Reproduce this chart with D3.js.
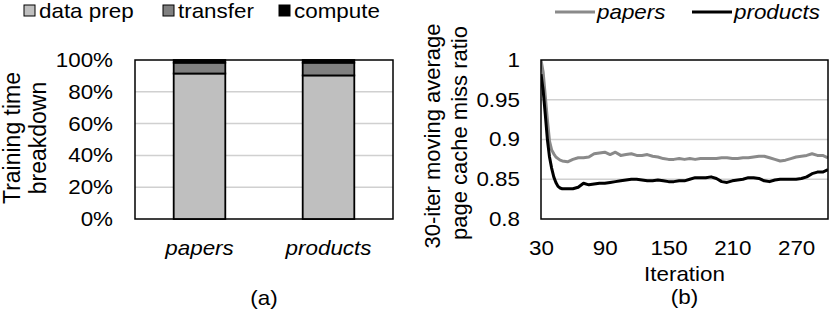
<!DOCTYPE html>
<html>
<head>
<meta charset="utf-8">
<script src="https://cdn.jsdelivr.net/npm/d3@7"></script>
<style>
  body { margin: 0; background: #fff; }
  svg { display: block; font-family: "Liberation Sans", Arial, sans-serif; }
</style>
</head>
<body>
<div id="block"></div>
<script>
// (a) training time breakdown
var categories = ["papers", "products"];
var parts = ["data prep", "transfer", "compute"];
var dataPrep = [91.5, 90.3];
var transfer = [6.8, 8.0];
var compute = [1.7, 1.7];
var pctTicks = [0, 20, 40, 60, 80, 100];

// (b) 30-iter moving average page cache miss ratio
var series = ["papers", "products"];
var iters = [30, 32, 34, 36, 38, 40, 42, 44, 46, 48, 50,
             55, 60, 65, 70, 75, 80, 85, 90, 95, 100,
             105, 110, 115, 120, 125, 130, 135, 140, 145, 150,
             155, 160, 165, 170, 175, 180, 185, 190, 195, 200,
             205, 210, 215, 220, 225, 230, 235, 240, 245, 250,
             255, 260, 265, 270, 275, 280, 285, 290, 295, 300];
var papersRatio = [1.000, 0.985, 0.955, 0.925, 0.898, 0.887, 0.882, 0.878, 0.876, 0.874, 0.873,
                   0.872, 0.875, 0.877, 0.877, 0.878, 0.882, 0.883, 0.884, 0.881, 0.884,
                   0.880, 0.881, 0.882, 0.880, 0.880, 0.881, 0.879, 0.878, 0.876, 0.875,
                   0.875, 0.876, 0.875, 0.876, 0.875, 0.876, 0.876, 0.876, 0.876, 0.877,
                   0.877, 0.876, 0.876, 0.877, 0.877, 0.878, 0.879, 0.879, 0.877, 0.875,
                   0.873, 0.874, 0.876, 0.878, 0.879, 0.880, 0.882, 0.880, 0.880, 0.877];
var productsRatio = [0.982, 0.962, 0.932, 0.900, 0.878, 0.864, 0.853, 0.846, 0.841, 0.839, 0.838,
                     0.838, 0.838, 0.840, 0.845, 0.843, 0.844, 0.845, 0.845, 0.846, 0.847,
                     0.848, 0.849, 0.850, 0.850, 0.849, 0.848, 0.848, 0.849, 0.848, 0.847,
                     0.847, 0.848, 0.848, 0.850, 0.852, 0.852, 0.852, 0.853, 0.851, 0.847,
                     0.846, 0.848, 0.849, 0.850, 0.852, 0.852, 0.851, 0.848, 0.847, 0.849,
                     0.850, 0.850, 0.850, 0.850, 0.851, 0.853, 0.857, 0.859, 0.859, 0.862];
var iterTicks = [30, 90, 150, 210, 270];
var ratioTicks = [0.8, 0.85, 0.9, 0.95, 1];

// the source figure is a bit wider than tall, so text gets stretched
var SX = 1.12;
var gridColor = "#d0d0d0";
var partColors = ["#bfbfbf", "#808080", "#000000"];
var lineColors = ["#8a8a8a", "#000000"];

var svg = d3.select("#block")
            .append("svg")
            .attr("width", 830)
            .attr("height", 314);

function label(x, y, txt, size, anchor, italic) {
    return svg.append("text")
              .attr("transform", "translate(" + x + "," + y + ") scale(" + SX + ",1)")
              .attr("font-size", size)
              .attr("text-anchor", anchor || "start")
              .attr("font-style", italic ? "italic" : null)
              .text(txt);
}

function vlabel(x, y, txt, size) {
    return svg.append("text")
              .attr("transform", "translate(" + x + "," + y + ") rotate(-90)")
              .attr("font-size", size)
              .attr("text-anchor", "middle")
              .text(txt);
}

function styleAxis(g, italic) {
    g.select(".domain").remove();
    g.selectAll("text")
     .attr("font-size", 20)
     .attr("font-family", null)
     .attr("fill", "#000")
     .attr("font-style", italic ? "italic" : null)
     .attr("transform", "scale(" + SX + ",1)");
}

// ---------- (a) ----------
var a = {left: 135, right: 393, top: 60, bottom: 219};

var xBand = d3.scaleBand()
              .domain(categories)
              .range([a.left, a.right]);
var yPct = d3.scaleLinear()
             .domain([0, 100])
             .range([a.bottom, a.top]);
var barW = xBand.bandwidth() * 0.4;

svg.append("g")
   .selectAll("line")
   .data(pctTicks.slice(1, -1))
   .enter()
   .append("line")
   .attr("x1", a.left).attr("x2", a.right)
   .attr("y1", function(d) { return yPct(d); })
   .attr("y2", function(d) { return yPct(d); })
   .attr("stroke", gridColor)
   .attr("stroke-width", 1.5);

svg.append("rect")
   .attr("x", a.left).attr("y", a.top)
   .attr("width", a.right - a.left).attr("height", a.bottom - a.top)
   .attr("fill", "none")
   .attr("stroke", "#000")
   .attr("stroke-width", 1.5);

var stackRows = categories.map(function(c, i) {
    return {cat: c, "data prep": dataPrep[i], "transfer": transfer[i], "compute": compute[i]};
});
var stacked = d3.stack().keys(parts)(stackRows);

svg.append("g")
   .selectAll("g")
   .data(stacked)
   .enter()
   .append("g")
   .attr("fill", function(d, i) { return partColors[i]; })
   .selectAll("rect")
   .data(function(d) { return d; })
   .enter()
   .append("rect")
   .attr("x", function(d) { return xBand(d.data.cat) + (xBand.bandwidth() - barW) / 2; })
   .attr("y", function(d) { return yPct(d[1]); })
   .attr("width", barW)
   .attr("height", function(d) { return yPct(d[0]) - yPct(d[1]); })
   .attr("stroke", "#000")
   .attr("stroke-width", 1.8);

svg.append("g")
   .attr("transform", "translate(" + a.left + ",0)")
   .call(d3.axisLeft(yPct)
           .tickValues(pctTicks)
           .tickSize(0)
           .tickPadding(22 / SX)
           .tickFormat(function(d) { return d + "%"; }))
   .call(function(g) { styleAxis(g, false); });

svg.append("g")
   .attr("transform", "translate(0," + a.bottom + ")")
   .call(d3.axisBottom(xBand).tickSize(0).tickPadding(22))
   .call(function(g) { styleAxis(g, true); });

vlabel(20, 138, "Training time", 23);
vlabel(46, 138, "breakdown", 23);
label((a.left + a.right) / 2, 305, "(a)", 20, "middle");

// legend (a)
var legA = [24, 163, 279];
parts.forEach(function(p, i) {
    svg.append("rect")
       .attr("x", legA[i]).attr("y", 5)
       .attr("width", 11).attr("height", 11)
       .attr("fill", partColors[i])
       .attr("stroke", "#000")
       .attr("stroke-width", 1);
    label(legA[i] + 15, 18, p, 20);
});

// ---------- (b) ----------
var b = {left: 541, right: 828, top: 60, bottom: 219};

var xIter = d3.scaleLinear()
              .domain([30, 300])
              .range([b.left, b.right]);
var yRatio = d3.scaleLinear()
               .domain([0.8, 1])
               .range([b.bottom, b.top]);

svg.append("g")
   .selectAll("line")
   .data(ratioTicks.slice(1, -1))
   .enter()
   .append("line")
   .attr("x1", b.left).attr("x2", b.right)
   .attr("y1", function(d) { return yRatio(d); })
   .attr("y2", function(d) { return yRatio(d); })
   .attr("stroke", gridColor)
   .attr("stroke-width", 1.5);

svg.append("clipPath")
   .attr("id", "clipB")
   .append("rect")
   .attr("x", b.left).attr("y", b.top)
   .attr("width", b.right - b.left).attr("height", b.bottom - b.top);

var line = d3.line()
             .x(function(d) { return xIter(d[0]); })
             .y(function(d) { return yRatio(d[1]); });

[papersRatio, productsRatio].forEach(function(vals, i) {
    svg.append("path")
       .datum(d3.zip(iters, vals))
       .attr("clip-path", "url(#clipB)")
       .attr("d", line)
       .attr("fill", "none")
       .attr("stroke", lineColors[i])
       .attr("stroke-width", 3)
       .attr("stroke-linejoin", "round");
});

svg.append("rect")
   .attr("x", b.left).attr("y", b.top)
   .attr("width", b.right - b.left).attr("height", b.bottom - b.top)
   .attr("fill", "none")
   .attr("stroke", "#000")
   .attr("stroke-width", 1.5);

svg.append("g")
   .attr("transform", "translate(" + b.left + ",0)")
   .call(d3.axisLeft(yRatio)
           .tickValues(ratioTicks)
           .tickSize(0)
           .tickPadding(21 / SX)
           .tickFormat(d3.format("")))
   .call(function(g) { styleAxis(g, false); });

svg.append("g")
   .attr("transform", "translate(0," + b.bottom + ")")
   .call(d3.axisBottom(xIter)
           .tickValues(iterTicks)
           .tickSize(0)
           .tickPadding(21.5))
   .call(function(g) { styleAxis(g, false); });

vlabel(440, 136, "30-iter moving average", 22);
vlabel(467, 133, "page cache miss ratio", 22);
label((b.left + b.right) / 2, 281, "Iteration", 20, "middle");
label((b.left + b.right) / 2, 304, "(b)", 20, "middle");

// legend (b)
var legB = [555, 692];
series.forEach(function(s, i) {
    svg.append("line")
       .attr("x1", legB[i]).attr("x2", legB[i] + 40)
       .attr("y1", 12).attr("y2", 12)
       .attr("stroke", lineColors[i])
       .attr("stroke-width", 3);
    label(legB[i] + 42, 19, s, 20, "start", true);
});
</script>
</body>
</html>
